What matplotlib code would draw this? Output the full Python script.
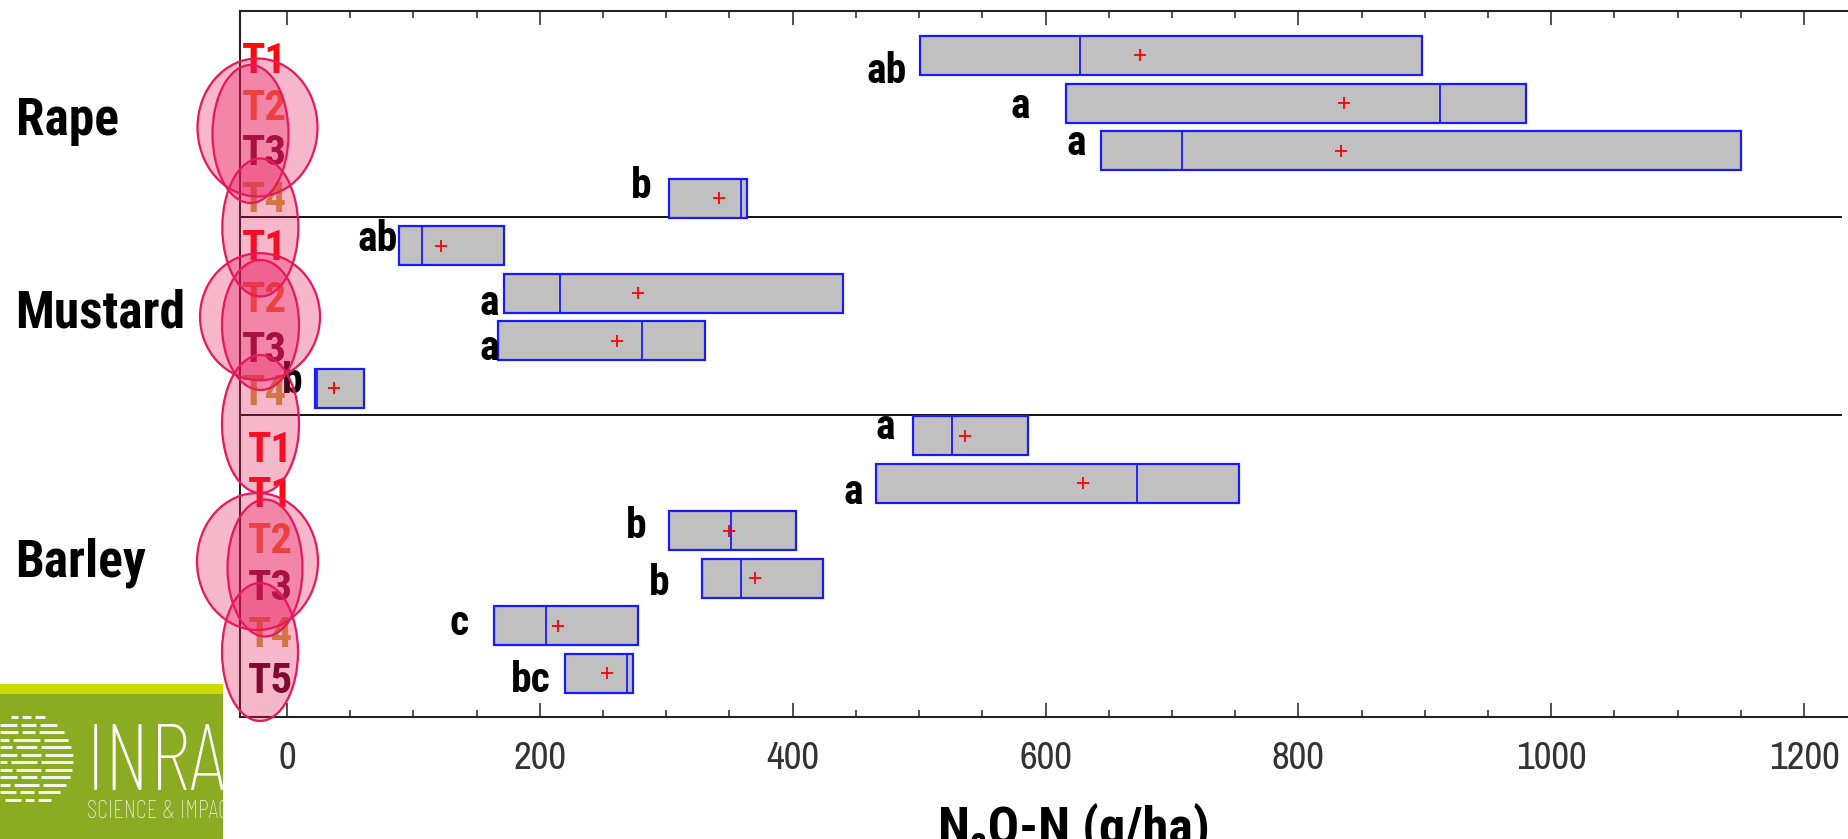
import matplotlib
matplotlib.use('Agg')
import matplotlib.pyplot as plt
from matplotlib import font_manager
from matplotlib.patches import Rectangle, Ellipse
from matplotlib.lines import Line2D
from matplotlib.ticker import MultipleLocator
from matplotlib.transforms import Affine2D, Bbox, TransformedBbox
import numpy as np

# ---------------- data ----------------
crops = ['Rape', 'Mustard', 'Barley']

rape_treat = ['T1', 'T2', 'T3', 'T4']
rape_q1 = [501, 616, 644, 302]
rape_med = [627, 912, 708, 359]
rape_q3 = [898, 980, 1150, 364]
rape_mean = [675, 836, 834, 342]
rape_letters = ['ab', 'a', 'a', 'b']

mustard_treat = ['T1', 'T2', 'T3', 'T4']
mustard_q1 = [89, 172, 167, 22]
mustard_med = [107, 216, 281, 24]
mustard_q3 = [172, 440, 331, 61]
mustard_mean = [122, 278, 261, 37]
mustard_letters = ['ab', 'a', 'a', 'b']

barley_treat = ['T1', 'T1', 'T2', 'T3', 'T4', 'T5']
barley_q1 = [495, 466, 302, 328, 164, 220]
barley_med = [526, 672, 351, 359, 205, 269]
barley_q3 = [586, 753, 403, 424, 278, 274]
barley_mean = [536, 630, 350, 370, 214, 253]
barley_letters = ['a', 'a', 'b', 'b', 'c', 'bc']

xticks = [0, 200, 400, 600, 800, 1000, 1200]
xlabel = 'N\u2082O-N (g/ha)'

# ---------------- styles ----------------
fl = font_manager.fontManager.ttflist
names = {f.name for f in fl}


def wnum(w):
    if isinstance(w, (int, float)):
        return w
    return font_manager.weight_dict.get(str(w), 400)


def pick(cands, bold=False):
    for c in cands:
        if bold:
            if any(f.name == c and wnum(f.weight) >= 700 for f in fl):
                return c
        elif c in names:
            return c
    return 'DejaVu Sans'


BOLD_N = pick(['Liberation Sans Narrow', 'Roboto Condensed', 'PT Sans Narrow',
               'Archivo Narrow', 'Barlow Semi Condensed', 'Asap Condensed',
               'Liberation Sans'], bold=True)
REG_N = pick(['Liberation Sans Narrow', 'Archivo Narrow', 'Roboto Condensed',
              'PT Sans Narrow', 'Liberation Sans'])
FAMB = [BOLD_N, 'DejaVu Sans']
FAMR = [REG_N, 'DejaVu Sans']
LOGO = [pick(['Barlow Condensed', 'Roboto Condensed', 'Archivo Narrow', 'Lato']), 'DejaVu Sans']

treat_colors = {'T1': '#ff0a0a', 'T2': '#f07028', 'T3': '#640a28',
                'T4': '#c8a03c', 'T5': '#50051e'}
BOX_FACE = '#c0c0c0'
BOX_EDGE = '#1a1aff'
ELL_EDGE = '#e8185a'

W, H = 1849, 839
fig = plt.figure(figsize=(W / 100, H / 100), dpi=100)
P = Affine2D().scale(1, -1).translate(0, H)  # reference-pixel coordinates

ax = fig.add_axes([240.2 / W, 1 - 716.5 / H, 1 - 240.2 / W, (716.5 - 11) / H])
ax.set_xlim(-37.0, 1235.5)
ax.set_ylim(13.907, -0.936)

groups = [
    (rape_treat, rape_q1, rape_med, rape_q3, rape_mean, rape_letters),
    (mustard_treat, mustard_q1, mustard_med, mustard_q3, mustard_mean, mustard_letters),
    (barley_treat, barley_q1, barley_med, barley_q3, barley_mean, barley_letters),
]
treat, q1, med, q3, mean, letters = [], [], [], [], [], []
for g in groups:
    treat += g[0]; q1 += g[1]; med += g[2]; q3 += g[3]; mean += g[4]; letters += g[5]
rows = np.arange(len(treat))

# layout (pixel offsets)
letter_gap = [13.6, 36, 15, 17, 2, 5, -1, 12, 18, 13, 22, 32, 26, 14]
letter_base = [27.5, 15, 4.4, 0, 5.4, 21.8, 19.3, 4.8, 3.3, 20.7, 7.2, 16.6, 9, 18.6]
tlab_base = [17.5, 17, 14.4, 14, 14.4, 19, 21, 17, 26, 24, 22, 21.6, 21, 19.6]
tlab_x = [2, 2, 2, 2, 2, 2, 2, 2, 8, 8, 8, 8, 8, 8]

box_h = 0.82
for r in rows:
    ax.add_patch(Rectangle((q1[r], r - box_h / 2), q3[r] - q1[r], box_h,
                           facecolor=BOX_FACE, edgecolor=BOX_EDGE, lw=1.6, zorder=2))
    ax.plot([med[r], med[r]], [r - box_h / 2, r + box_h / 2], color=BOX_EDGE,
            lw=1.3, zorder=3)
    ax.plot(mean[r], r, marker='+', color='#ff0000', markersize=9, mew=1.3,
            linestyle='none', zorder=4)
    ax.annotate(letters[r], xy=(q1[r], r), xytext=(-letter_gap[r], -letter_base[r]),
                textcoords='offset pixels', ha='right', va='baseline',
                fontsize=30, fontweight='bold', family=FAMB, color='black',
                annotation_clip=False, zorder=5)
    ax.annotate(treat[r], xy=(0, r), xycoords=('axes fraction', 'data'),
                xytext=(tlab_x[r], -tlab_base[r]), textcoords='offset pixels',
                ha='left', va='baseline', fontsize=31, fontweight='bold',
                family=FAMB, color=treat_colors[treat[r]], annotation_clip=False,
                zorder=1)

for ysep in [3.398, 7.564]:
    ax.axhline(ysep, xmin=0, xmax=0.995, color='black', lw=1.3, zorder=1)

ax.set_yticks([])
ax.set_xticks(xticks)
ax.set_xticklabels([str(v) for v in xticks])
ax.xaxis.set_minor_locator(MultipleLocator(50))
ax.tick_params(axis='x', which='both', direction='in', top=True, bottom=True,
               color='#222222', width=1.1)
ax.tick_params(axis='x', which='major', length=10, pad=17.5, labelsize=28,
               labelcolor='#333333')
ax.tick_params(axis='x', which='minor', length=5)
for lab in ax.get_xticklabels():
    lab.set_family(FAMR)
ax.spines['right'].set_visible(False)
for s in ['top', 'bottom', 'left']:
    ax.spines[s].set_color('#222222')
    ax.spines[s].set_linewidth(1.5)

group_base = [135, 328, 576.7]
for name, yb in zip(crops, group_base):
    fig.text(15.6, yb, name, transform=P, ha='left', va='baseline', fontsize=37,
             fontweight='bold', family=FAMB, color='black')

fig.text(1074, 843.5, xlabel, transform=P, ha='center', va='baseline',
         fontsize=37.5, fontweight='bold', family=FAMB, color='black')

ellipses = [(257.5, 127.5, 120, 138), (250.5, 134, 76, 138), (260.3, 227.5, 76, 138),
            (260, 316.7, 120, 127), (260.5, 325, 77, 130), (260.5, 424, 77, 138),
            (257.5, 561.5, 121, 137), (265, 568, 75, 137), (260, 652, 76, 138)]
for cx, cy, w, h in ellipses:
    fig.add_artist(Ellipse((cx, cy), w, h, transform=P, facecolor=ELL_EDGE,
                           alpha=0.31, edgecolor='none', zorder=6))
    fig.add_artist(Ellipse((cx, cy), w, h, transform=P, facecolor='none',
                           edgecolor=ELL_EDGE, lw=1.6, zorder=7))

# INRA logo block
fig.add_artist(Rectangle((0, 684), 223, 10, transform=P, facecolor='#c8dc00',
                         edgecolor='none', zorder=8))
fig.add_artist(Rectangle((0, 694), 223, 145, transform=P, facecolor='#8aab22',
                         edgecolor='none', zorder=8))
clip = TransformedBbox(Bbox([[0, 684], [223, 839]]), P)
t1 = fig.text(86, 790, 'INRA', transform=P, ha='left', va='baseline', fontsize=68,
              family=LOGO, fontweight='light', color='white', zorder=9)
t2 = fig.text(87, 818, 'SCIENCE & IMPACT', transform=P, ha='left', va='baseline',
              fontsize=18, family=LOGO, fontweight='light', color='#f0f0e0', zorder=9)
for t in (t1, t2):
    t.set_clip_box(clip)
    t.set_clip_on(True)
ecx, ecy, er = 28, 760, 47
for k, yy in enumerate(np.arange(717, 806, 7.5)):
    dy = yy - ecy
    if abs(dy) >= er:
        continue
    hw = np.sqrt(er ** 2 - dy ** 2)
    x0, x1 = ecx - hw, ecx + hw
    cuts = [x0, x0 + (x1 - x0) * (0.30 + 0.05 * (k % 3)),
            x0 + (x1 - x0) * (0.62 + 0.04 * (k % 2)), x1]
    for a, b in zip(cuts[:-1], cuts[1:]):
        a2, b2 = max(a + 2, 0), b - 2
        if b2 > a2:
            fig.add_artist(Line2D([a2, b2], [yy, yy], transform=P, color='white',
                                  lw=2.2, alpha=0.9, zorder=9, solid_capstyle='butt'))

fig.savefig('out.png', dpi=100)
